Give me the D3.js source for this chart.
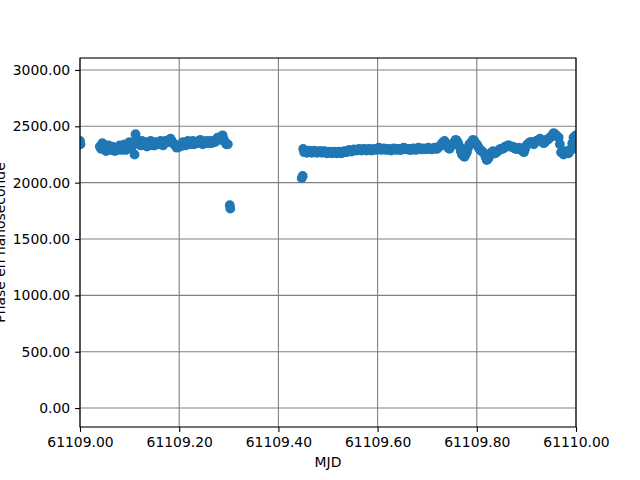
<!DOCTYPE html>
<html>
<head>
<meta charset="utf-8">
<script src="https://cdn.jsdelivr.net/npm/d3@7"></script>
<style>
  html, body { margin: 0; padding: 0; background: #fff; }
  svg { display: block; font-family: "DejaVu Sans", sans-serif; }
</style>
</head>
<body>
<svg id="chart" width="640" height="480"></svg>
<script>
// MJD values (days)
const mjd = [
  61109.000, 61109.001,
  61109.040, 61109.045, 61109.050, 61109.055, 61109.060, 61109.065, 61109.070, 61109.075,
  61109.080, 61109.085, 61109.090, 61109.095, 61109.100, 61109.105, 61109.110, 61109.112,
  61109.115, 61109.120, 61109.125, 61109.130, 61109.135, 61109.140, 61109.145, 61109.150,
  61109.155, 61109.160, 61109.165, 61109.170, 61109.175, 61109.180, 61109.185, 61109.190,
  61109.195, 61109.200, 61109.205, 61109.210, 61109.215, 61109.220, 61109.225, 61109.230,
  61109.235, 61109.240, 61109.245, 61109.250, 61109.255, 61109.260, 61109.265, 61109.270,
  61109.275, 61109.280, 61109.285, 61109.290, 61109.295, 61109.298,
  61109.302, 61109.303,
  61109.447, 61109.449,
  61109.450, 61109.452, 61109.455, 61109.460, 61109.465, 61109.470, 61109.475, 61109.480,
  61109.485, 61109.490, 61109.495, 61109.500, 61109.505, 61109.510, 61109.515, 61109.520,
  61109.525, 61109.530, 61109.535, 61109.540, 61109.545, 61109.550, 61109.555, 61109.560,
  61109.565, 61109.570, 61109.575, 61109.580, 61109.585, 61109.590, 61109.595, 61109.600,
  61109.605, 61109.610, 61109.615, 61109.620, 61109.625, 61109.630, 61109.635, 61109.640,
  61109.645, 61109.650, 61109.655, 61109.660, 61109.665, 61109.670, 61109.675, 61109.680,
  61109.685, 61109.690, 61109.695, 61109.700, 61109.705, 61109.710, 61109.715, 61109.720,
  61109.725, 61109.730, 61109.735, 61109.740, 61109.745, 61109.750, 61109.755, 61109.760,
  61109.765, 61109.770, 61109.775, 61109.780, 61109.785, 61109.790, 61109.795, 61109.800,
  61109.805, 61109.810, 61109.815, 61109.820, 61109.825, 61109.830, 61109.835, 61109.840,
  61109.845, 61109.850, 61109.855, 61109.860, 61109.865, 61109.870, 61109.875, 61109.880,
  61109.885, 61109.890, 61109.895, 61109.900, 61109.905, 61109.910, 61109.915, 61109.920,
  61109.925, 61109.930, 61109.935, 61109.940, 61109.945, 61109.950, 61109.955, 61109.960,
  61109.965, 61109.970, 61109.975, 61109.980, 61109.985, 61109.990, 61109.995, 61110.000,
  61110.000
];
// Phase values (ns)
const phase = [
  2370, 2340,
  2320, 2350, 2300, 2310, 2290, 2320, 2280, 2300,
  2330, 2290, 2340, 2300, 2360, 2320, 2250, 2430,
  2380, 2340, 2370, 2350, 2320, 2340, 2360, 2330,
  2350, 2360, 2340, 2350, 2370, 2380, 2370, 2340,
  2310, 2320, 2340, 2350, 2340, 2360, 2350, 2340,
  2360, 2370, 2360, 2350, 2370, 2360, 2350, 2370,
  2380, 2390, 2410, 2380, 2340, 2340,
  1800, 1770,
  2040, 2060,
  2300, 2270, 2280, 2270, 2280, 2270, 2275, 2270,
  2280, 2270, 2275, 2265, 2270, 2265, 2270, 2265,
  2270, 2270, 2275, 2280, 2280, 2285, 2290, 2290,
  2295, 2290, 2295, 2290, 2295, 2290, 2295, 2300,
  2300, 2295, 2300, 2295, 2290, 2295, 2300, 2295,
  2290, 2300, 2305, 2295, 2290, 2300, 2295, 2300,
  2305, 2295, 2300, 2305, 2300, 2295, 2310, 2300,
  2320, 2350, 2370, 2330, 2300, 2340, 2360, 2370,
  2320, 2250, 2230, 2270, 2340, 2360, 2370, 2340,
  2300, 2280, 2260, 2200, 2230, 2270, 2260, 2270,
  2290, 2300, 2310, 2320, 2330, 2320, 2310, 2300,
  2310, 2290, 2270, 2330, 2350, 2360, 2340, 2370,
  2380, 2370, 2350, 2380, 2390, 2410, 2440, 2420,
  2400, 2270, 2250, 2280, 2260, 2300, 2400, 2420,
  2300
];
// Interleaved measurements (MJD, days)
const mjdB = [
  61109.0425, 61109.0475, 61109.0525, 61109.0575, 61109.0625, 61109.0675, 61109.0725, 61109.0775,
  61109.0825, 61109.0875, 61109.0925, 61109.0975, 61109.1025, 61109.1075, 61109.1175, 61109.1225,
  61109.1275, 61109.1325, 61109.1375, 61109.1425, 61109.1475, 61109.1525, 61109.1575, 61109.1625,
  61109.1675, 61109.1725, 61109.1775, 61109.1825, 61109.1875, 61109.1925, 61109.1975, 61109.2025,
  61109.2075, 61109.2125, 61109.2175, 61109.2225, 61109.2275, 61109.2325, 61109.2375, 61109.2425,
  61109.2475, 61109.2525, 61109.2575, 61109.2625, 61109.2675, 61109.2725, 61109.2775, 61109.2825,
  61109.2875, 61109.2925,
  61109.4575, 61109.4625, 61109.4675, 61109.4725, 61109.4775, 61109.4825, 61109.4875, 61109.4925,
  61109.4975, 61109.5025, 61109.5075, 61109.5125, 61109.5175, 61109.5225, 61109.5275, 61109.5325,
  61109.5375, 61109.5425, 61109.5475, 61109.5525, 61109.5575, 61109.5625, 61109.5675, 61109.5725,
  61109.5775, 61109.5825, 61109.5875, 61109.5925, 61109.5975, 61109.6025, 61109.6075, 61109.6125,
  61109.6175, 61109.6225, 61109.6275, 61109.6325, 61109.6375, 61109.6425, 61109.6475, 61109.6525,
  61109.6575, 61109.6625, 61109.6675, 61109.6725, 61109.6775, 61109.6825, 61109.6875, 61109.6925,
  61109.6975, 61109.7025, 61109.7075, 61109.7125, 61109.7175, 61109.7225, 61109.7275, 61109.7325,
  61109.7375, 61109.7425, 61109.7475, 61109.7525, 61109.7575, 61109.7625, 61109.7675, 61109.7725,
  61109.7775, 61109.7825, 61109.7875, 61109.7925, 61109.7975, 61109.8025, 61109.8075, 61109.8125,
  61109.8175, 61109.8225, 61109.8275, 61109.8325, 61109.8375, 61109.8425, 61109.8475, 61109.8525,
  61109.8575, 61109.8625, 61109.8675, 61109.8725, 61109.8775, 61109.8825, 61109.8875, 61109.8925,
  61109.8975, 61109.9025, 61109.9075, 61109.9125, 61109.9175, 61109.9225, 61109.9275, 61109.9325,
  61109.9375, 61109.9425, 61109.9475, 61109.9525, 61109.9575, 61109.9625, 61109.9675, 61109.9725,
  61109.9775, 61109.9825, 61109.9875, 61109.9925, 61109.9975
];
// Interleaved measurements (phase, ns)
const phaseB = [
  2300, 2340, 2280, 2330, 2310, 2290, 2310, 2290,
  2320, 2320, 2290, 2340, 2310, 2350, 2360, 2330,
  2340, 2360, 2330, 2370, 2330, 2360, 2340, 2370,
  2330, 2370, 2360, 2390, 2350, 2330, 2330, 2320,
  2360, 2330, 2370, 2340, 2370, 2350, 2350, 2380,
  2340, 2360, 2350, 2370, 2360, 2360, 2400, 2380,
  2420, 2360,
  2265, 2285, 2265, 2285, 2265, 2280, 2265, 2280,
  2260, 2275, 2260, 2275, 2260, 2275, 2260, 2280,
  2270, 2290, 2275, 2295, 2285, 2300, 2285, 2300,
  2285, 2300, 2285, 2300, 2290, 2310, 2290, 2305,
  2290, 2300, 2285, 2305, 2290, 2300, 2290, 2310,
  2295, 2300, 2290, 2305, 2290, 2310, 2295, 2305,
  2295, 2310, 2295, 2305, 2300, 2315, 2330, 2360,
  2340, 2310, 2320, 2350, 2380, 2350, 2280, 2240,
  2250, 2310, 2350, 2380, 2350, 2320, 2290, 2270,
  2230, 2210, 2250, 2280, 2260, 2280, 2300, 2300,
  2320, 2330, 2320, 2320, 2300, 2300, 2300, 2280,
  2300, 2340, 2360, 2350, 2360, 2370, 2390, 2360,
  2360, 2380, 2400, 2420, 2430, 2410, 2340, 2260,
  2270, 2270, 2280, 2350, 2410
];
const xTicks = [61109.0, 61109.2, 61109.4, 61109.6, 61109.8, 61110.0];
const yTicks = [0, 500, 1000, 1500, 2000, 2500, 3000];
const xLabel = "MJD";
const yLabel = "Phase en nanoseconde";

const margin = {left: 80, right: 64, top: 58, bottom: 53};
const W = 640, H = 480;
const svg = d3.select("#chart");

const x = d3.scaleLinear().domain([61109.0, 61110.0]).range([margin.left, W - margin.right]);
const y = d3.scaleLinear().domain([-168, 3106]).range([H - margin.bottom, margin.top]);

svg.append("defs").append("clipPath").attr("id", "clip")
  .append("rect")
  .attr("x", margin.left).attr("y", margin.top)
  .attr("width", W - margin.left - margin.right)
  .attr("height", H - margin.top - margin.bottom);

// grid
const grid = svg.append("g");
grid.selectAll(".gx").data(xTicks).enter().append("line")
  .attr("x1", d => x(d)).attr("x2", d => x(d))
  .attr("y1", margin.top).attr("y2", H - margin.bottom)
  .attr("stroke", "#808080").attr("stroke-width", 1.1);
grid.selectAll(".gy").data(yTicks).enter().append("line")
  .attr("x1", margin.left).attr("x2", W - margin.right)
  .attr("y1", d => y(d)).attr("y2", d => y(d))
  .attr("stroke", "#808080").attr("stroke-width", 1.1);

// points
const pts = mjd.map((m, i) => ({m, v: phase[i]}))
  .concat(mjdB.map((m, i) => ({m, v: phaseB[i]})));
svg.append("g").attr("clip-path", "url(#clip)")
  .selectAll("circle").data(pts).enter().append("circle")
  .attr("cx", d => x(d.m)).attr("cy", d => y(d.v))
  .attr("r", 4.9).attr("fill", "#1f77b4");

// axes
const fmt = d3.format(".2f");
const xAxis = d3.axisBottom(x).tickValues(xTicks).tickFormat(fmt).tickSize(4.9).tickPadding(4.9);
const yAxis = d3.axisLeft(y).tickValues(yTicks).tickFormat(fmt).tickSize(4.9).tickPadding(4.9);

const gx = svg.append("g").attr("transform", `translate(0,${H - margin.bottom})`).call(xAxis);
const gy = svg.append("g").attr("transform", `translate(${margin.left},0)`).call(yAxis);
[gx, gy].forEach(g => {
  g.select(".domain").remove();
  g.selectAll(".tick line").attr("stroke", "#000").attr("stroke-width", 1.1);
  g.selectAll(".tick text").attr("fill", "#000").style("font-size", "13.9px")
    .style("font-family", "'DejaVu Sans', sans-serif");
});

// spines
svg.append("rect")
  .attr("x", margin.left).attr("y", margin.top)
  .attr("width", W - margin.left - margin.right)
  .attr("height", H - margin.top - margin.bottom)
  .attr("fill", "none").attr("stroke", "#000").attr("stroke-width", 1.1);

// labels
svg.append("text").attr("x", (margin.left + W - margin.right) / 2).attr("y", 467)
  .attr("text-anchor", "middle").style("font-size", "13.9px").attr("fill", "#000")
  .text(xLabel);
svg.append("text").attr("transform", `translate(5,${(margin.top + H - margin.bottom) / 2}) rotate(-90)`)
  .attr("text-anchor", "middle").style("font-size", "13.9px").attr("fill", "#000")
  .text(yLabel);
</script>
</body>
</html>
